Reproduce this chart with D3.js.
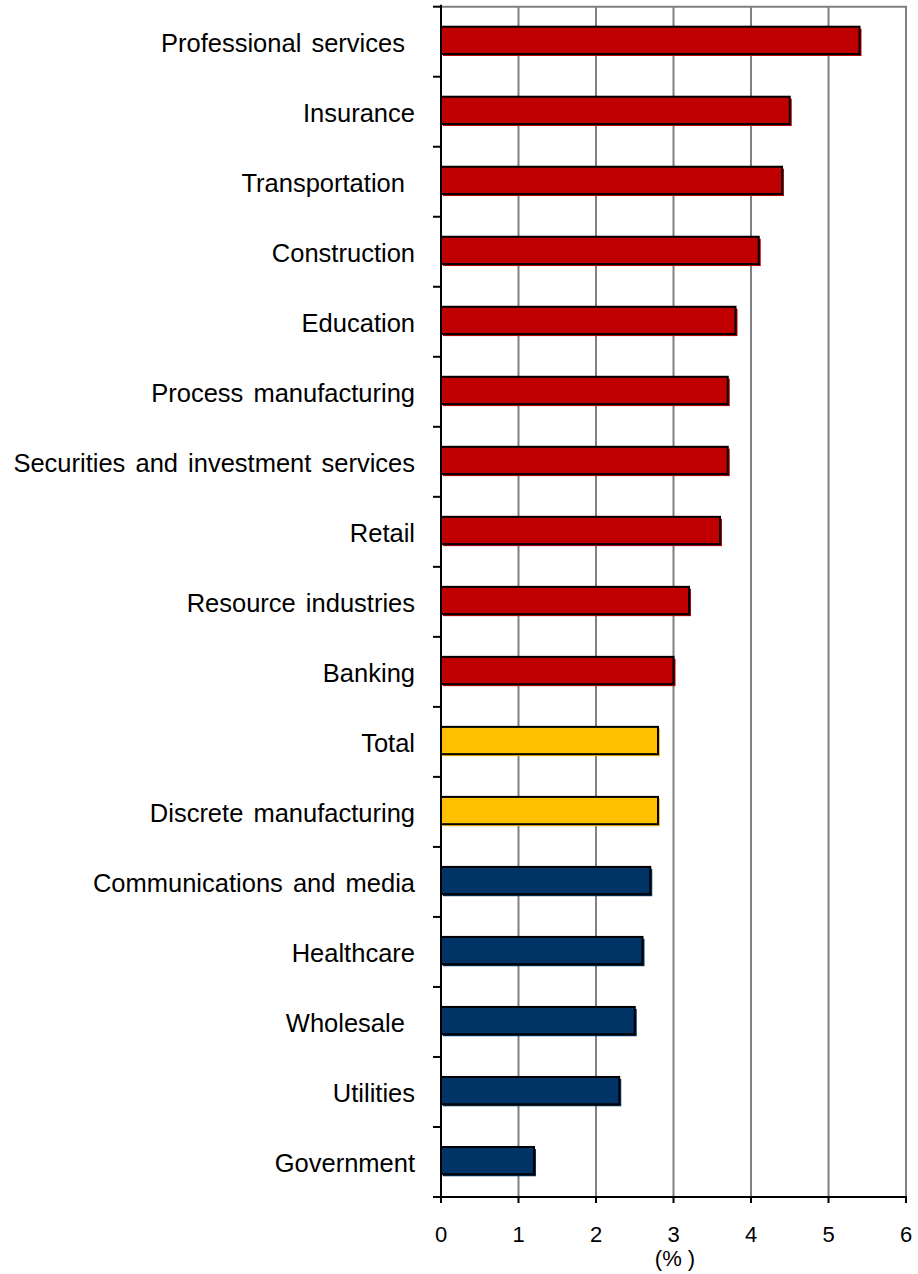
<!DOCTYPE html>
<html><head><meta charset="utf-8">
<script src="https://cdn.jsdelivr.net/npm/d3@7"></script>
<style>body{margin:0;background:#fff}svg{display:block}text{font-family:"Liberation Sans",Arial,sans-serif;fill:#000}</style>
</head><body>
<svg id="c" width="918" height="1274"></svg>
<script>
const categories = ["Professional services ","Insurance","Transportation ","Construction","Education","Process manufacturing","Securities and investment services","Retail","Resource industries","Banking","Total","Discrete manufacturing","Communications and media","Healthcare","Wholesale ","Utilities","Government"];
const values = [5.4,4.5,4.4,4.1,3.8,3.7,3.7,3.6,3.2,3.0,2.8,2.8,2.7,2.6,2.5,2.3,1.2];
const groups = ["above","above","above","above","above","above","above","above","above","above","mid","mid","below","below","below","below","below"];
const xTicks = [0,1,2,3,4,5,6];
const xLabel = "(% )";
const colors = {above:"#C00000", mid:"#FFC000", below:"#003366"};

const L=441, R=906, T=6.7, B=1197;
const svg = d3.select("#c");
const x = d3.scaleLinear().domain([0,6]).range([L,R]);
const y = d3.scaleBand().domain(categories).range([T,B]).paddingInner(0).paddingOuter(0);
const bh = 27.3, boff = 20;

// grid
svg.append("g").selectAll("line").data(xTicks.slice(1)).join("line")
  .attr("x1",d=>x(d)).attr("x2",d=>x(d)).attr("y1",T).attr("y2",B)
  .attr("stroke","#808080").attr("stroke-width",2);
svg.append("line").attr("x1",L).attr("x2",R+1).attr("y1",T).attr("y2",T).attr("stroke","#808080").attr("stroke-width",2);

// bars
const g = svg.append("g");
g.selectAll("rect.sh").data(values).join("rect").attr("class","sh")
  .attr("x",L+2).attr("y",(d,i)=>y(categories[i])+boff+2)
  .attr("width",d=>x(d)-L).attr("height",bh)
  .attr("fill",(d,i)=>colors[groups[i]]);
g.selectAll("rect.b").data(values).join("rect").attr("class","b")
  .attr("x",L).attr("y",(d,i)=>y(categories[i])+boff)
  .attr("width",d=>x(d)-L).attr("height",bh)
  .attr("fill",(d,i)=>colors[groups[i]]).attr("stroke","#000").attr("stroke-width",2);

// y axis
const ya = svg.append("g");
ya.append("line").attr("x1",L).attr("x2",L).attr("y1",T-2).attr("y2",B+6).attr("stroke","#000").attr("stroke-width",2);
const bounds = categories.map(c=>y(c)).concat([B]);
ya.selectAll("line.t").data(bounds).join("line").attr("class","t")
  .attr("x1",L-8).attr("x2",L).attr("y1",d=>d).attr("y2",d=>d).attr("stroke","#000").attr("stroke-width",2);
ya.selectAll("text").data(categories).join("text")
  .attr("x",415).attr("y",d=>y(d)+y.bandwidth()/2+1)
  .attr("text-anchor","end").attr("dominant-baseline","central")
  .style("white-space","pre").style("font-size","25.5px").style("word-spacing","3px").text(d=>d);

// x axis
const xa = svg.append("g");
xa.append("line").attr("x1",L-8).attr("x2",R+1).attr("y1",B).attr("y2",B).attr("stroke","#000").attr("stroke-width",2);
xa.selectAll("line.t").data(xTicks).join("line").attr("class","t")
  .attr("x1",d=>x(d)).attr("x2",d=>x(d)).attr("y1",B).attr("y2",B+6).attr("stroke","#000").attr("stroke-width",2);
xa.selectAll("text").data(xTicks).join("text")
  .attr("x",d=>x(d)).attr("y",1242).attr("text-anchor","middle").style("font-size","22px").text(d=>d);
svg.append("text").attr("x",675).attr("y",1266).attr("text-anchor","middle").style("white-space","pre").style("font-size","22px").text(xLabel);
</script>
</body></html>
